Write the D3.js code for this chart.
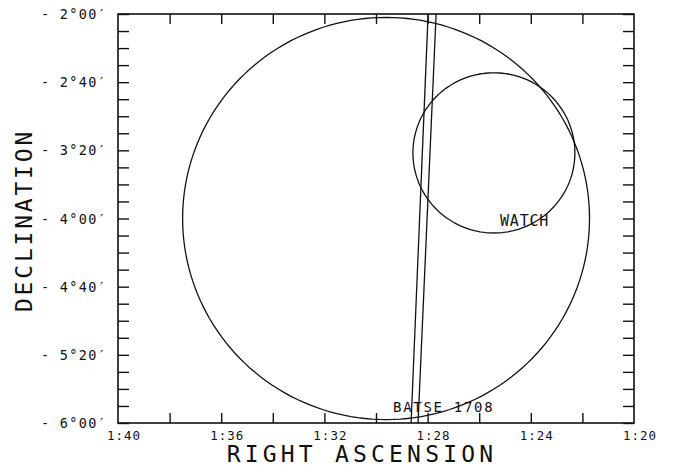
<!DOCTYPE html>
<html>
<head>
<meta charset="utf-8">
<script src="https://cdn.jsdelivr.net/npm/d3@7"></script>
<style>
  html, body { margin: 0; padding: 0; background: #fff; }
  svg { display: block; }
  text { font-family: "DejaVu Sans Mono", "Liberation Mono", monospace; fill: #111; }
</style>
</head>
<body>
<svg id="chart" width="675" height="467"></svg>
<script>
// ---- data ----
// Right ascension in minutes after 1h, declination in arcminutes
const raTicks = [100, 96, 92, 88, 84, 80];
const raTickLabels = ["1:40", "1:36", "1:32", "1:28", "1:24", "1:20"];
const raMinorTicks = [98, 96, 94, 92, 90, 88, 86, 84, 82];
const decTicks = [-120, -160, -200, -240, -280, -320, -360];
const decTickLabels = ["2°00′", "2°40′", "3°20′", "4°00′", "4°40′", "5°20′", "6°00′"];
const decMinorStep = 10; // arcmin

const regionNames = ["", "WATCH"];
const regionCenterRA = [89.61, 85.43];
const regionCenterDec = [-240, -201.5];
const regionRadius = [118, 47]; // arcmin

const bandDec = [-120, -360];
const bandEdgeA_RA = [87.98, 88.64];
const bandEdgeB_RA = [87.67, 88.37];
const bandLabel = "BATSE 1708";

// ---- layout ----
const svg = d3.select("#chart");
const mLeft = 118, mRight = 634, mTop = 14, mBottom = 423;
const x = d3.scaleLinear().domain([100, 80]).range([mLeft, mRight]);
const y = d3.scaleLinear().domain([-120, -360]).range([mTop, mBottom]);

svg.append("defs").append("clipPath").attr("id", "clip")
  .append("rect").attr("x", mLeft).attr("y", mTop)
  .attr("width", mRight - mLeft).attr("height", mBottom - mTop);

const stroke = "#111";

// minor dec ticks
const decAll = d3.range(-120, -360 - 1, -decMinorStep);

function styleAxis(g) {
  g.select(".domain").remove();
  g.selectAll("line").attr("stroke", stroke).attr("stroke-width", 1.4);
}
svg.append("g").attr("transform", `translate(${mLeft},0)`)
  .call(d3.axisLeft(y).tickValues(decAll).tickSize(-11).tickFormat("")).call(styleAxis);
svg.append("g").attr("transform", `translate(${mRight},0)`)
  .call(d3.axisRight(y).tickValues(decAll).tickSize(-11).tickFormat("")).call(styleAxis);
svg.append("g").attr("transform", `translate(0,${mBottom})`)
  .call(d3.axisBottom(x).tickValues(raMinorTicks).tickSize(-10).tickFormat("")).call(styleAxis);
svg.append("g").attr("transform", `translate(0,${mTop})`)
  .call(d3.axisTop(x).tickValues(raMinorTicks).tickSize(-10).tickFormat("")).call(styleAxis);

// frame
svg.append("rect").attr("x", mLeft).attr("y", mTop)
  .attr("width", mRight - mLeft).attr("height", mBottom - mTop)
  .attr("fill", "none").attr("stroke", stroke).attr("stroke-width", 1.6);

// x tick labels
svg.append("g").selectAll("text").data(raTicks).join("text")
  .attr("x", d => x(d) + 6).attr("y", 439.5)
  .attr("text-anchor", "middle")
  .style("font-size", "12.5px").style("letter-spacing", "1px")
  .text((d, i) => raTickLabels[i]);

// y tick labels
svg.append("g").selectAll("text").data(decTicks).join("text")
  .attr("x", 107).attr("y", d => y(d) + 5)
  .attr("text-anchor", "end")
  .style("font-size", "13.5px").style("letter-spacing", "1.3px")
  .text((d, i) => "- " + decTickLabels[i]);

// axis titles
svg.append("text").attr("x", 362).attr("y", 462)
  .attr("text-anchor", "middle")
  .style("font-size", "23px").style("letter-spacing", "4.2px")
  .text("RIGHT ASCENSION");
svg.append("text")
  .attr("transform", `translate(32,${(mTop + mBottom) / 2 + 2}) rotate(-90)`)
  .attr("text-anchor", "middle")
  .style("font-size", "23px").style("letter-spacing", "2.8px")
  .text("DECLINATION");

// plot content
const plot = svg.append("g").attr("clip-path", "url(#clip)");
const line = d3.line().x(d => x(d[0])).y(d => y(d[1]));
const thetas = d3.range(0, 361, 2);
regionCenterRA.forEach((ra0, i) => {
  const dec0 = regionCenterDec[i], r = regionRadius[i];
  const cosd = Math.cos(Math.abs(dec0) / 60 * Math.PI / 180);
  const pts = thetas.map(t => {
    const a = t * Math.PI / 180;
    return [ra0 + r * Math.cos(a) / (15 * cosd), dec0 + r * Math.sin(a)];
  });
  plot.append("path").attr("d", line(pts))
    .attr("fill", "none").attr("stroke", stroke).attr("stroke-width", 1.3);
});

[bandEdgeA_RA, bandEdgeB_RA].forEach(edge => {
  plot.append("path").attr("d", line(edge.map((ra, j) => [ra, bandDec[j]])))
    .attr("fill", "none").attr("stroke", stroke).attr("stroke-width", 1.3);
});

// labels
svg.append("text").attr("x", 500).attr("y", 226)
  .style("font-size", "15px").style("letter-spacing", "0.8px")
  .text(regionNames[1]);
svg.append("text").attr("x", 393).attr("y", 412)
  .style("font-size", "14px").style("letter-spacing", "1.7px")
  .text(bandLabel);
</script>
</body>
</html>
